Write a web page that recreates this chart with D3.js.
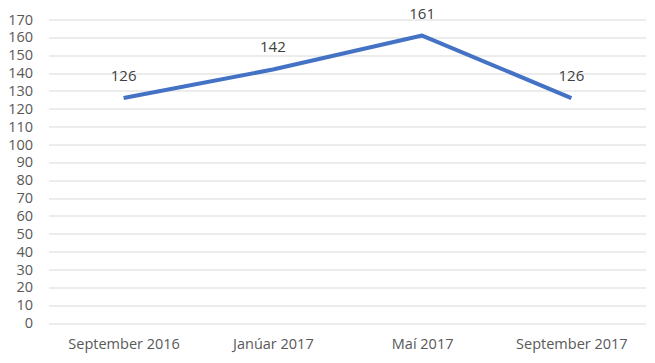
<!DOCTYPE html>
<html lang="en">
<head>
<meta charset="UTF-8">
<title>Line chart</title>
<script src="https://d3js.org/d3.v7.min.js"></script>
<style>
  body { margin: 0; background: #fff; }
  svg { font-family: "Open Sans", sans-serif; }
  .grid line { stroke: #d9d9d9; stroke-width: 1; }
  .axis text { fill: #595959; font-size: 14.5px; font-family: "Open Sans", sans-serif; }
  .label { fill: #404040; font-size: 15px; }
</style>
</head>
<body>
<div id="chart"></div>
<script>
  const categories = ["September 2016", "Janúar 2017", "Maí 2017", "September 2017"];
  const values = [126, 142, 161, 126];
  const yTicks = d3.range(0, 171, 10);

  const W = 655, H = 363;
  const margin = { top: 19.5, right: 9, bottom: 40, left: 49 };
  const width = W - margin.left - margin.right;
  const height = H - margin.top - margin.bottom;

  const svg = d3.select("#chart").append("svg")
      .attr("width", W)
      .attr("height", H);

  const g = svg.append("g")
      .attr("transform", `translate(${margin.left},${margin.top})`);

  const x = d3.scalePoint()
      .domain(categories)
      .range([0, width])
      .padding(0.5);

  const y = d3.scaleLinear()
      .domain([0, 170])
      .range([height, 0]);

  // gridlines
  g.append("g")
      .attr("class", "grid")
      .selectAll("line")
      .data(yTicks)
      .join("line")
      .attr("x1", 0)
      .attr("x2", width)
      .attr("y1", d => Math.round(y(d)) + 0.5)
      .attr("y2", d => Math.round(y(d)) + 0.5);

  // y axis
  const yAxis = g.append("g")
      .attr("class", "axis")
      .call(d3.axisLeft(y).tickValues(yTicks).tickSize(0).tickPadding(16));
  yAxis.select(".domain").remove();

  // x axis
  const xAxis = g.append("g")
      .attr("class", "axis")
      .attr("transform", `translate(0,${height})`)
      .call(d3.axisBottom(x).tickSize(0).tickPadding(16));
  xAxis.select(".domain").remove();

  const data = categories.map((c, i) => ({ cat: c, value: values[i] }));

  g.append("path")
      .datum(data)
      .attr("fill", "none")
      .attr("stroke", "#4472c4")
      .attr("stroke-width", 4)
      .attr("stroke-linejoin", "round")
      .attr("d", d3.line()
          .x(d => x(d.cat))
          .y(d => y(d.value)));

  g.selectAll(".label")
      .data(data)
      .join("text")
      .attr("class", "label")
      .attr("x", d => x(d.cat))
      .attr("y", d => y(d.value) - 17)
      .attr("text-anchor", "middle")
      .text(d => d.value);
</script>
</body>
</html>
